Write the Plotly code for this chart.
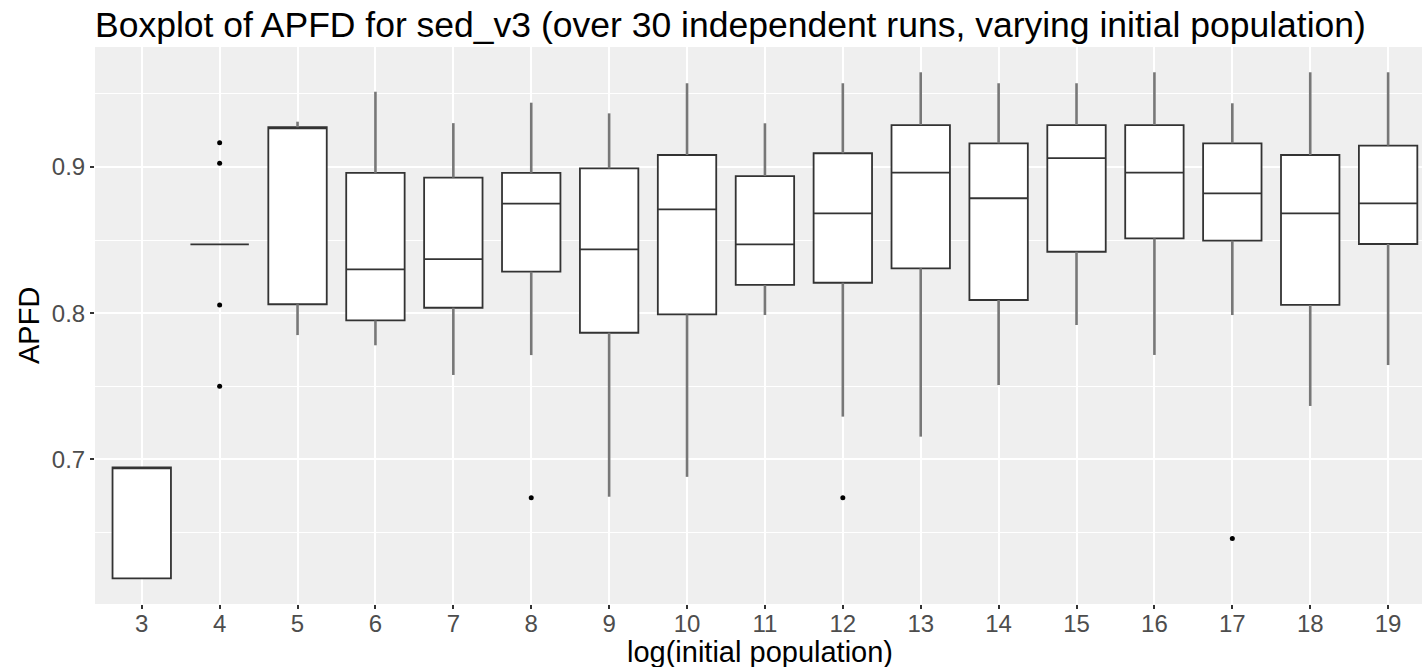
import plotly.graph_objects as go

# ---- data ----
categories = ["3", "4", "5", "6", "7", "8", "9", "10", "11", "12",
              "13", "14", "15", "16", "17", "18", "19"]
q1 =           [0.6186, 0.8471, 0.8061, 0.7950, 0.8037, 0.8284, 0.7866, 0.7992, 0.8193,
                0.8208, 0.8307, 0.8090, 0.8420, 0.8512, 0.8496, 0.8056, 0.8473]
median =       [0.6945, 0.8471, 0.9272, 0.8300, 0.8370, 0.8750, 0.8437, 0.8710, 0.8471,
                0.8683, 0.8961, 0.8786, 0.9060, 0.8961, 0.8820, 0.8683, 0.8751]
q3 =           [0.6945, 0.8471, 0.9272, 0.8960, 0.8927, 0.8960, 0.8990, 0.9082, 0.8938,
                0.9094, 0.9287, 0.9162, 0.9287, 0.9287, 0.9162, 0.9082, 0.9146]
whisker_low =  [0.6186, 0.8471, 0.7850, 0.7780, 0.7577, 0.7713, 0.6744, 0.6880, 0.7987,
                0.7292, 0.7155, 0.7508, 0.7919, 0.7714, 0.7987, 0.7365, 0.7645]
whisker_high = [0.6945, 0.8471, 0.9310, 0.9515, 0.9300, 0.9440, 0.9367, 0.9573, 0.9299,
                0.9573, 0.9648, 0.9573, 0.9573, 0.9648, 0.9436, 0.9648, 0.9648]
outlier_x = ["4", "4", "4", "4", "8", "12", "17"]
outlier_y = [0.9166, 0.9025, 0.8056, 0.7500, 0.6737, 0.6737, 0.6459]

title_text = "Boxplot of APFD for sed_v3 (over 30 independent runs, varying initial population)"
x_title = "log(initial population)"
y_title = "APFD"

FONT = "Liberation Sans, Arial, sans-serif"

W, H = 1422, 667
ML, MR, MT, MB = 95, 0, 47, 63
PW, PH = W - ML - MR, H - MT - MB

# whisker segments built from the data
wx, wy = [], []
for c, lo, a, b, hi in zip(categories, whisker_low, q1, q3, whisker_high):
    if lo < a:
        wx += [c, c, None]
        wy += [lo, a, None]
    if hi > b:
        wx += [c, c, None]
        wy += [b, hi, None]

fig = go.Figure()

fig.add_trace(go.Scatter(
    x=wx, y=wy, mode="lines",
    line=dict(color="#777777", width=2.6),
    hoverinfo="skip", showlegend=False,
))

fig.add_trace(go.Box(
    x=categories,
    q1=q1, median=median, q3=q3,
    lowerfence=q1, upperfence=q3,
    width=0.75,
    whiskerwidth=0,
    fillcolor="white",
    line=dict(color="#333333", width=1.8),
    boxpoints=False,
    showlegend=False,
))

fig.add_trace(go.Scatter(
    x=outlier_x, y=outlier_y, mode="markers",
    marker=dict(color="black", size=5),
    showlegend=False,
))

fig.update_layout(
    width=W, height=H,
    margin=dict(l=ML, r=MR, t=MT, b=MB, autoexpand=False),
    paper_bgcolor="white",
    plot_bgcolor="#EFEFEF",
    font=dict(family=FONT, color="black"),
    title=dict(
        text=title_text,
        font=dict(family=FONT, size=35.5, color="black"),
        x=0, xref="paper", xanchor="left",
        y=0.963, yref="container", yanchor="middle",
    ),
    boxmode="overlay",
    annotations=[
        dict(text=x_title, xref="paper", yref="paper",
             x=(760 - ML) / PW, y=-(652 - (MT + PH)) / PH,
             xanchor="center", yanchor="middle", showarrow=False,
             font=dict(family=FONT, size=29, color="black")),
        dict(text=y_title, xref="paper", yref="paper",
             x=(29 - ML) / PW, y=(MT + PH - 326) / PH,
             xanchor="center", yanchor="middle", showarrow=False, textangle=-90,
             font=dict(family=FONT, size=29, color="black")),
    ],
)

fig.update_xaxes(
    type="category",
    categoryorder="array", categoryarray=categories,
    range=[-0.6, 16.435],
    automargin=False,
    showgrid=True, gridcolor="white", gridwidth=2,
    zeroline=False, showline=False,
    ticks="outside", ticklen=4, tickwidth=1.5, tickcolor="#333333",
    ticklabelstandoff=-6,
    tickfont=dict(family=FONT, size=24, color="#4D4D4D"),
)

fig.update_yaxes(
    range=[0.601, 0.9821],
    automargin=False,
    tickmode="array", tickvals=[0.7, 0.8, 0.9], ticktext=["0.7", "0.8", "0.9"],
    showgrid=True, gridcolor="white", gridwidth=2,
    minor=dict(tickmode="array", tickvals=[0.65, 0.75, 0.85, 0.95],
               showgrid=True, gridcolor="white", gridwidth=1, ticks=""),
    zeroline=False, showline=False,
    ticks="outside", ticklen=4, tickwidth=1.5, tickcolor="#333333",
    tickfont=dict(family=FONT, size=24, color="#4D4D4D"),
)

fig.write_html(
    "out.html",
    config={"displayModeBar": False},
    post_script="document.body.style.margin='0px';document.body.style.overflow='hidden';",
)
